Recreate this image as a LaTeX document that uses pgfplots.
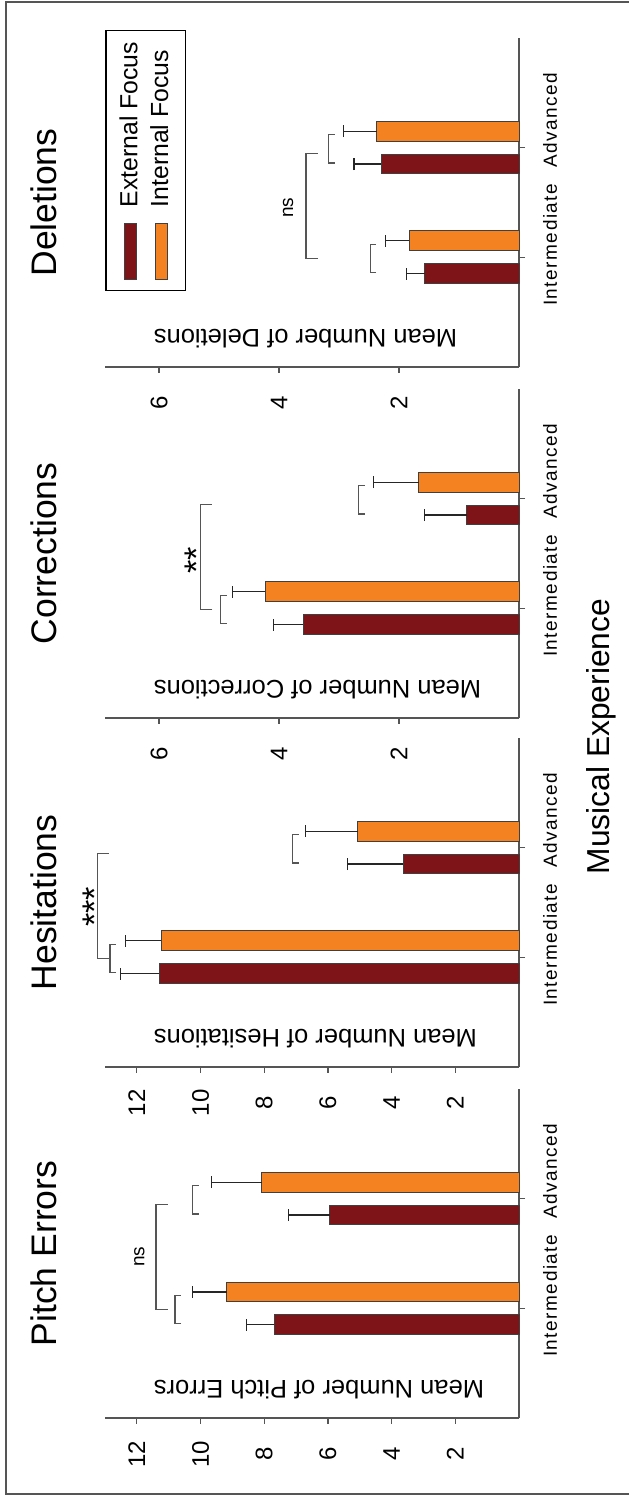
\documentclass[border=0pt]{standalone}
\usepackage{pgfplots}
\pgfplotsset{compat=1.18}
\usepackage{fontspec}
\setmainfont{Liberation Sans}
\definecolor{extc}{HTML}{7F1418}
\definecolor{intc}{HTML}{F58220}
\definecolor{axc}{HTML}{555555}
\newcommand\br[4]{\draw[axc, line width=0.5pt] ([yshift=-#4]axis cs:#1,#3) -- (axis cs:#1,#3) -- (axis cs:#2,#3) -- ([yshift=-#4]axis cs:#2,#3);}
\pgfplotsset{
  panel/.style={
    scale only axis, width=131.6pt, height=165.6pt,
    anchor=south west, clip=false,
    xmin=0, xmax=3, ymin=0,
    axis x line*=bottom, axis y line*=left,
    axis line style={axc, line width=0.5pt},
    tick align=outside, major tick length=2.4pt,
    every tick/.style={axc, line width=0.5pt},
    xtick={1,2}, xticklabels={Intermediate,\hspace*{12pt}Advanced},
    /pgf/number format/assume math mode=true,
    xticklabel style={font=\fontsize{7.6}{7.6}\selectfont\addfontfeature{LetterSpace=8}, anchor=center, yshift=-10pt, xshift=5pt},
    yticklabel style={font=\fontsize{9.6}{9.6}\selectfont, anchor=center, xshift=-12pt},
    title style={font=\fontsize{14.2}{14.2}\selectfont, at={(0.5,1)}, anchor=center, yshift=18.4pt},
    ylabel style={font=\fontsize{10.2}{10.2}\selectfont, at={([xshift=11.2pt,yshift=-16pt]axis description cs:0,1)}, anchor=east},
  },
  barbase/.style={ybar, bar width=7.9pt, bar shift=0pt, draw=black!75, line width=0.4pt,
    error bars/.cd, y dir=plus, y explicit,
    error bar style={black!85, line width=0.5pt},
    error mark options={rotate=90, black!85, mark size=2.4pt, line width=0.5pt}},
  extbar/.style={fill=extc, barbase},
  intbar/.style={fill=intc, barbase},
}
\begin{document}
\begin{tikzpicture}[rotate=90, transform shape]
\path[use as bounding box] (0pt,0pt) rectangle (598.8pt,-251.6pt);
\draw[axc, line width=0.5pt] (1.2pt,-251.6pt) -- (1.2pt,-2.4pt) -- (598pt,-2.4pt) -- (598pt,-251.6pt);

% Pitch Errors
\begin{axis}[panel, at={(31.6pt,-207.6pt)}, ymax=13, ytick={2,4,6,8,10,12},
  title={Pitch Errors}, ylabel={Mean Number of Pitch Errors}]
\addplot[extbar] coordinates {(0.85,7.68) +- (0,0.87) (1.85,5.95) +- (0,1.28)};
\addplot[intbar] coordinates {(1.15,9.17) +- (0,1.08) (2.15,8.08) +- (0,1.57)};
\br{0.86}{1.12}{10.8}{2.4pt}
\br{1.86}{2.12}{10.25}{2.4pt}
\br{0.99}{1.95}{11.4}{4.8pt}
\node[font=\fontsize{7.6}{7.6}\selectfont] at (axis cs:1.47,11.92) {ns};
\end{axis}

% Hesitations
\begin{axis}[panel, at={(172pt,-207.6pt)}, ymax=13, ytick={2,4,6,8,10,12},
  title={Hesitations}, ylabel={Mean Number of Hesitations}]
\addplot[extbar] coordinates {(0.85,11.29) +- (0,1.22) (1.85,3.63) +- (0,1.75)};
\addplot[intbar] coordinates {(1.15,11.24) +- (0,1.12) (2.15,5.07) +- (0,1.64)};
\br{0.86}{1.12}{12.84}{2.4pt}
\br{1.86}{2.12}{7.11}{2.4pt}
\br{0.99}{1.95}{13.24}{4.8pt}
\node[font=\fontsize{13.7}{13.7}\selectfont, yshift=-3pt] at (axis cs:1.46,13.56) {***};
\end{axis}

% Corrections
\begin{axis}[panel, at={(311.6pt,-207.6pt)}, ymax=6.9, ytick={2,4,6},
  title={Corrections}, ylabel={Mean Number of Corrections}]
\addplot[extbar] coordinates {(0.85,3.60) +- (0,0.49) (1.85,0.87) +- (0,0.71)};
\addplot[intbar] coordinates {(1.15,4.23) +- (0,0.54) (2.15,1.67) +- (0,0.76)};
\br{0.86}{1.12}{4.97}{2.4pt}
\br{1.86}{2.12}{2.67}{2.4pt}
\br{0.99}{1.95}{5.31}{4.8pt}
\node[font=\fontsize{13.7}{13.7}\selectfont, yshift=-3pt] at (axis cs:1.44,5.49) {**};
\end{axis}

% Deletions
\begin{axis}[panel, at={(452pt,-207.6pt)}, ymax=6.9, ytick={2,4,6},
  title={Deletions}, ylabel={Mean Number of Deletions},
  legend style={at={(rel axis cs:1,1)}, anchor=north east, xshift=3.2pt,
    draw=black, line width=0.6pt, font=\fontsize{9.9}{9.9}\selectfont,
    inner xsep=4pt, inner ysep=5pt, row sep=2.6pt, column sep=6pt,
    nodes={inner sep=0.5pt}},
  legend cell align=left,
  legend image code/.code={\draw[#1, line width=0.4pt] (0pt,-2.4pt) rectangle (22.4pt,2.4pt);}]
\addplot[extbar] coordinates {(0.85,1.57) +- (0,0.30) (1.85,2.30) +- (0,0.45)};
\addplot[intbar] coordinates {(1.15,1.83) +- (0,0.40) (2.15,2.37) +- (0,0.56)};
\legend{External Focus, Internal Focus}
\br{0.86}{1.12}{2.48}{2.4pt}
\br{1.86}{2.12}{3.17}{2.4pt}
\br{0.99}{1.95}{3.55}{4.8pt}
\node[font=\fontsize{7.6}{7.6}\selectfont] at (axis cs:1.45,3.85) {ns};
\end{axis}

\node[font=\fontsize{12.7}{12.7}\selectfont, anchor=base] at (304.2pt,-243.6pt) {Musical Experience};
\end{tikzpicture}
\end{document}
